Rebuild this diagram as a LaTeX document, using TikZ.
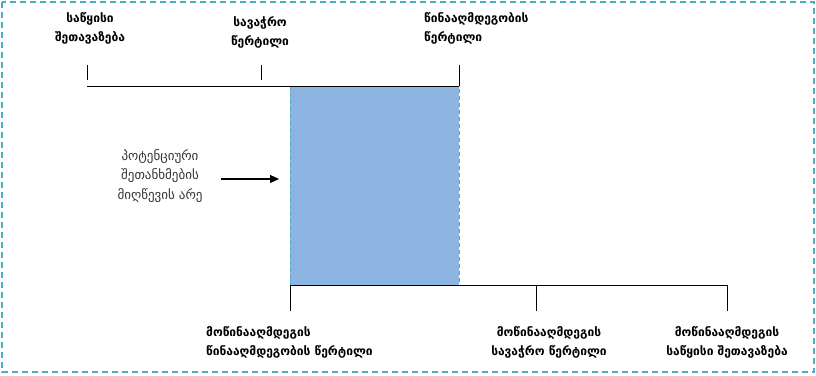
\documentclass[tikz,border=0pt]{standalone}
\usepackage{fontspec}
\setmainfont{DejaVu Sans}
\usetikzlibrary{arrows.meta}
\definecolor{teal1}{HTML}{4BACC6}
\definecolor{fillblue}{HTML}{8EB4E2}
\tikzset{
  lbl/.style={font=\fontsize{12}{19}\selectfont\bfseries, align=center, inner sep=0pt},
  lbll/.style={font=\fontsize{12}{19}\selectfont\bfseries, align=left, inner sep=0pt},
  mid/.style={font=\fontsize{13}{19.5}\selectfont, align=center, inner sep=0pt, text=black!80},
  axis/.style={line width=0.9pt, black},
  tick/.style={line width=0.6pt, black},
}
\begin{document}
\begin{tikzpicture}[x=1pt,y=-1pt]
\useasboundingbox (0,0) rectangle (816,375);
\draw[teal1, line width=1.3pt, dash pattern=on 6pt off 4pt] (2,2) rectangle (814,372);
% blue rectangle
\fill[fillblue] (290,86) rectangle (459,285);
\draw[teal1, line width=0.8pt, dash pattern=on 4pt off 3pt] (290,86) rectangle (459,285);
% top axis
\coordinate (t1) at (87,86);
\coordinate (t3) at (459,86);
\draw[axis] (t1) -- (t3);
\coordinate (ta) at (87,65);
\coordinate (tab) at (87,80);
\coordinate (tb) at (261,65);
\coordinate (tbb) at (261,80);
\coordinate (tc) at (459,65);
\draw[tick] (ta) -- (tab);
\draw[tick] (tb) -- (tbb);
\draw[tick] (tc) -- (t3);
% bottom axis
\coordinate (b1) at (290,285);
\coordinate (b3) at (727,285);
\draw[axis] (b1) -- (b3);
\coordinate (bd) at (290,311);
\coordinate (be0) at (536,285);
\coordinate (be) at (536,311);
\coordinate (bf) at (727,311);
\draw[tick] (b1) -- (bd);
\draw[tick] (be0) -- (be);
\draw[tick] (b3) -- (bf);
% labels
\node[lbl] (A) at (90,28) {საწყისი\\შეთავაზება};
\node[lbl] (B) at (260,32) {სავაჭრო\\წერტილი};
\node[lbll, anchor=west] (C) at (424,28) {წინააღმდეგობის\\წერტილი};
\node[mid] (M) at (160,176) {პოტენციური\\შეთანხმების\\მიღწევის არე};
\node[lbll, anchor=west] (D) at (206,342) {მოწინააღმდეგის\\წინააღმდეგობის წერტილი};
\node[lbl] (E) at (549,342) {მოწინააღმდეგის\\სავაჭრო წერტილი};
\node[lbl] (F) at (727,342) {მოწინააღმდეგის\\საწყისი შეთავაზება};
% arrow
\coordinate (as) at (221,179);
\coordinate (ar) at (279,179);
\draw[line width=1.1pt, -{Triangle[length=9pt,width=8pt]}] (as) -- (ar);
\end{tikzpicture}
\end{document}
